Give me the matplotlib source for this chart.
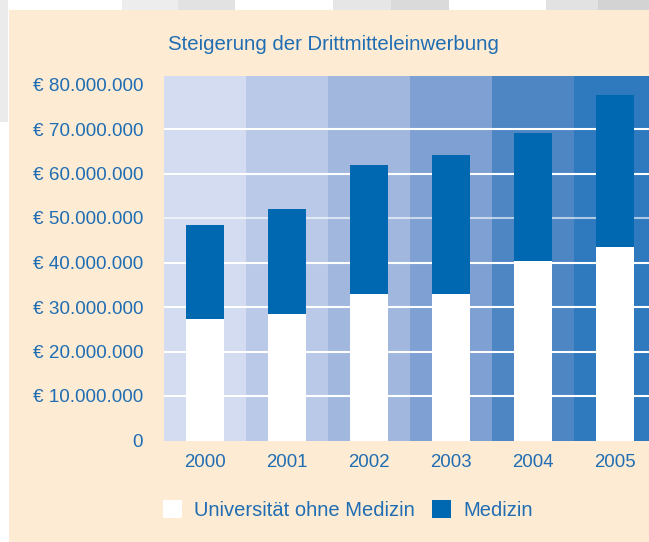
import numpy as np
import matplotlib
matplotlib.use('Agg')
import matplotlib.pyplot as plt
from matplotlib.patches import Rectangle, Patch

years = ['2000', '2001', '2002', '2003', '2004', '2005']
uni_ohne_med = [27.3e6, 28.4e6, 32.9e6, 32.9e6, 40.3e6, 43.5e6]
gesamt = [48.4e6, 52.0e6, 61.9e6, 64.2e6, 69.1e6, 77.6e6]
medizin = [g - u for g, u in zip(gesamt, uni_ohne_med)]
yticks = [0, 10e6, 20e6, 30e6, 40e6, 50e6, 60e6, 70e6, 80e6]

col_bg = ['#d3dcf0', '#b9c9e7', '#a1b7de', '#7ea0d2', '#4e86c4', '#2f7abe']
blue = '#0067b1'
txt = '#1f6db2'
peach = '#feebd3'

plt.rcParams['font.family'] = ['Liberation Sans', 'DejaVu Sans']

W, H = 649, 542
fig = plt.figure(figsize=(W / 100, H / 100), dpi=100, facecolor='white')

def px_rect(x0, y0, x1, y1, color):
    # rectangle in pixel coords (origin top left)
    fig.add_artist(Rectangle((x0 / W, 1 - y1 / H), (x1 - x0) / W, (y1 - y0) / H,
                             transform=fig.transFigure, color=color, lw=0, zorder=-10))

# page pieces around the panel
for x0, x1, c in [(0, 8, '#e6e6e6'), (122, 178, '#ededed'), (178, 235, '#e2e2e2'),
                  (333, 391, '#e6e6e6'), (391, 449, '#dadada'),
                  (546, 598, '#e2e2e2'), (598, 649, '#d3d3d3')]:
    px_rect(x0, 0, x1, 10, c)
px_rect(0, 0, 8, 122, '#ebebeb')
px_rect(9, 10, 649, 542, peach)

ax_top, ax_bot = 76, 440.5
ax = fig.add_axes([164 / W, 1 - ax_bot / H, 492 / W, (ax_bot - ax_top) / H])
ax.set_facecolor('none')

x = np.arange(len(years))
for i in x:
    ax.axvspan(i - 0.5, i + 0.5, color=col_bg[i], lw=0, zorder=0)
for v in yticks[1:-1]:
    ax.axhline(v, color='white', lw=1.5, alpha=0.6 if v == 50e6 else 1, zorder=1)

w = 38 / 82
ax.bar(x, uni_ohne_med, width=w, color='white', zorder=2)
ax.bar(x, medizin, bottom=uni_ohne_med, width=w, color=blue, zorder=2)

ymax = (ax_bot - ax_top) / 44.5 * 10e6
ax.set_xlim(-0.5, 5.5)
ax.set_ylim(0, ymax)
ax.set_yticks(yticks)
ax.set_yticklabels(['0'] + ['€ {:,}'.format(int(v)).replace(',', '.') for v in yticks[1:]])
ax.set_xticks(x)
ax.set_xticklabels(years)
ax.tick_params(length=0, labelcolor=txt)
ax.tick_params(axis='y', pad=15, labelsize=13.6)
ax.tick_params(axis='x', pad=10, labelsize=13.4)
for s in ax.spines.values():
    s.set_visible(False)

fig.text(333 / W, 1 - 45 / H, 'Steigerung der Drittmitteleinwerbung',
         ha='center', va='center', fontsize=14.7, color=txt)

handles = [Patch(facecolor='white', edgecolor='none'), Patch(facecolor=blue, edgecolor='none')]
leg = fig.legend(handles, ['Universität ohne Medizin', 'Medizin'], ncol=2,
                 loc='center left', bbox_to_anchor=(163 / W, 1 - 510 / H),
                 frameon=False, fontsize=14.5, borderpad=0, borderaxespad=0,
                 handlelength=0.95, handleheight=0.95, handletextpad=0.6,
                 columnspacing=0.85)
for t in leg.get_texts():
    t.set_color(txt)

fig.savefig('out.png', dpi=100, facecolor=fig.get_facecolor())
